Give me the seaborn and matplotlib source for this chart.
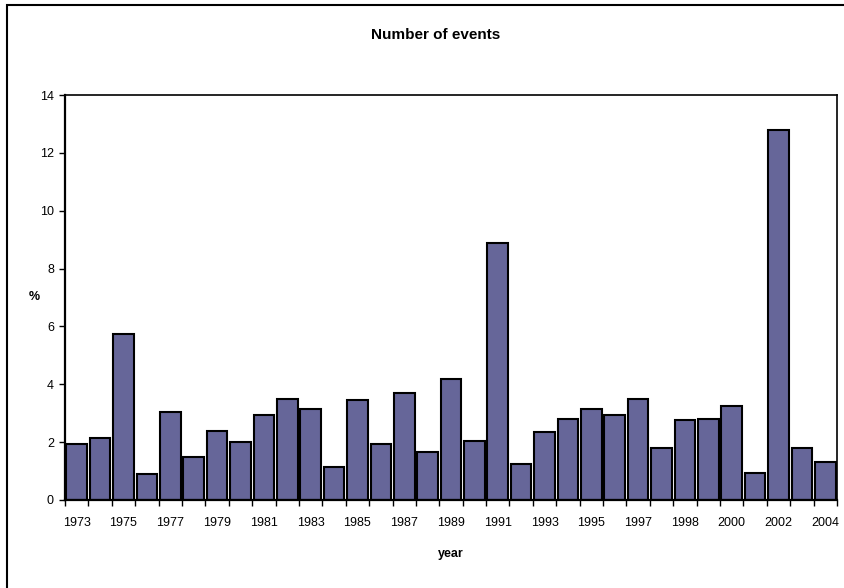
import matplotlib
matplotlib.use("Agg")
import matplotlib.pyplot as plt
import seaborn as sns
import pandas as pd
from matplotlib.patches import Rectangle
from matplotlib.ticker import FixedLocator

years = ["1973", "1974", "1975", "1976", "1977", "1978", "1979", "1980", "1981",
         "1982", "1983", "1984", "1985", "1986", "1987", "1988", "1989", "1990",
         "1991", "1992", "1993", "1994", "1995", "1996", "1997", "1997", "1998",
         "1999", "2000", "2001", "2002", "2003", "2004"]
values = [1.95, 2.15, 5.75, 0.9, 3.05, 1.5, 2.4, 2.0, 2.95, 3.5, 3.15, 1.15,
          3.45, 1.95, 3.7, 1.65, 4.2, 2.05, 8.9, 1.25, 2.35, 2.8, 3.15, 2.95,
          3.5, 1.8, 2.75, 2.8, 3.25, 0.95, 12.8, 1.8, 1.3]

sns.set_theme(style="white")
plt.rcParams['font.family'] = ['Liberation Sans', 'DejaVu Sans']
plt.rcParams['text.color'] = 'black'
plt.rcParams['axes.labelcolor'] = 'black'

df = pd.DataFrame({"idx": list(range(len(values))), "value": values})

fig = plt.figure(figsize=(8.45, 5.88), dpi=100)
ax = fig.add_axes([65/845, 1-500/588, (837-65)/845, (500-95)/588])

sns.barplot(data=df, x="idx", y="value", color="#666699", saturation=1,
            width=0.88, edgecolor="black", linewidth=1.5, ax=ax)

ax.set_ylim(0, 14)
ax.set_xlim(-0.5, len(values) - 0.5)
ax.set_yticks(range(0, 15, 2))
ax.set_xticks(range(0, len(values), 2))
ax.set_xticklabels(years[::2])
ax.xaxis.set_minor_locator(FixedLocator([i - 0.5 for i in range(len(values) + 1)]))
ax.tick_params(axis='x', which='major', length=0, labelsize=9, pad=12, colors='black')
ax.tick_params(axis='x', which='minor', bottom=True, length=4, width=1, color='black')
ax.tick_params(axis='y', left=True, length=4, width=1, labelsize=9, colors='black', pad=4)

for s in ax.spines.values():
    s.set_visible(True)
    s.set_color("black")
    s.set_linewidth(1.2)
ax.spines['left'].set_linewidth(1.6)
ax.spines['bottom'].set_linewidth(1.6)

ax.set_xlabel("year", fontsize=9, fontweight="bold", labelpad=14)
ax.set_ylabel("%", fontsize=9, fontweight="bold", rotation=0, labelpad=4, va="center")
fig.text(436/845, 1 - 35/588, "Number of events", ha="center", va="center",
         fontsize=11, fontweight="bold", color="black")

fig.patches.append(Rectangle((7/845, -0.05), 1.1, 1.05 - 5/588, transform=fig.transFigure,
                             fill=False, edgecolor="black", linewidth=1.5, figure=fig))

fig.savefig("out.png", dpi=100)
